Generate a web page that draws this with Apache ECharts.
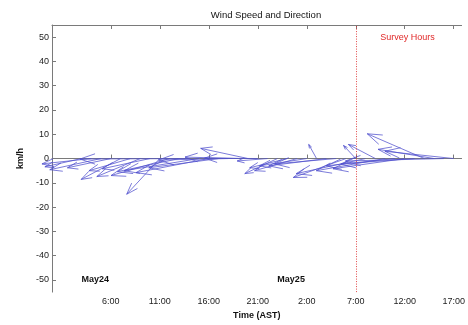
<!DOCTYPE html>
<html>
<head>
<meta charset="utf-8">
<script src="https://cdn.jsdelivr.net/npm/echarts@6/dist/echarts.min.js"></script>
<style>
  html, body { margin: 0; padding: 0; background: #fff; }
  #chart { width: 468px; height: 325px; }
</style>
</head>
<body>
<div id="chart"></div>
<script>
// hours since May24 00:00 (AST), wind components in km/h
const hours = [3, 4, 5, 6, 7, 8, 9, 10, 11, 12, 13, 14, 15, 16, 17, 18, 19, 20, 21,
  22, 23, 24, 25, 26, 27, 28, 29, 30, 31, 32, 33, 34, 35, 36, 37, 38, 39, 40, 41];
const uWind = [-14.9, -20.1, -20.9, -17.7, -16.1, -16.9, -17.7, -19.5, -13.5, -23.9, -25.3, -44.6, -30.5, -29.7, -28.5, -28.5, -21.7, -19.3, -21.7,
  -12.4, -13.3, -15.3, -17.3, -19.3, -3.2, -23.5, -25.1, -21.5, -5.0, -28.3, -11.0, -28.1, -28.1, -29.3, -30.1, -23.3, -22.9, -40.2, -28.1];
const vWind = [-3.4, -2.2, -4.6, -3.8, -8.6, -5.0, -7.4, -4.2, -14.7, -7.0, -5.4, -0.2, -5.0, -5.8, -3.8, -0.6, 0.6, 4.2, 0.2,
  -1.0, -6.2, -3.8, -5.0, -3.0, 5.8, -3.0, -2.2, -7.8, 5.4, -6.2, 5.8, -5.0, -3.0, -4.2, -2.2, 10.2, 3.8, -1.0, 3.0];

const xTicks = [6, 11, 16, 21, 26, 31, 36, 41];
const yTicks = [-50, -40, -30, -20, -10, 0, 10, 20, 30, 40, 50];

const dayNames = ['May24', 'May25'];
const dayHours = [3, 23];
const dayY = [-50, -50];

const surveyStart = 31;
const surveyLabel = 'Survey Hours';

// hours of time axis per km/h of u, so arrows keep their direction on screen
const SCALE = 0.25;

const arrowData = hours.map((h, i) => [h, uWind[i], vWind[i]]);

const chart = echarts.init(document.getElementById('chart'));

const FONT = 'Liberation Sans, Arial, sans-serif';
const AXIS_GRAY = '#7a7a7a';

chart.setOption({
  animation: false,
  title: {
    text: 'Wind Speed and Direction',
    left: 261,
    textAlign: 'center',
    top: 5,
    textStyle: { fontFamily: FONT, fontSize: 9.5, fontWeight: 'normal', color: '#111' },
  },
  grid: { left: 52, right: 0, top: 25, bottom: 26 },
  xAxis: [
    {
      type: 'value',
      min: 0,
      max: 41.8,
      name: 'Time (AST)',
      nameLocation: 'middle',
      nameGap: 18,
      nameTextStyle: { fontFamily: FONT, fontSize: 9, fontWeight: 'bold', color: '#111' },
      axisLine: { lineStyle: { color: AXIS_GRAY } },
      axisTick: { inside: true, length: 4, customValues: xTicks, lineStyle: { color: AXIS_GRAY } },
      axisLabel: {
        customValues: xTicks,
        margin: 5,
        fontFamily: FONT,
        fontSize: 9,
        color: '#222',
        formatter: (v) => (v % 24) + ':00',
      },
      splitLine: { show: false },
    },
    {
      type: 'value',
      position: 'top',
      min: 0,
      max: 41.8,
      axisLine: { lineStyle: { color: AXIS_GRAY } },
      axisTick: { inside: true, length: 4, customValues: xTicks, lineStyle: { color: AXIS_GRAY } },
      axisLabel: { show: false },
      splitLine: { show: false },
    },
  ],
  yAxis: {
    type: 'value',
    min: -55,
    max: 55,
    name: 'km/h',
    nameLocation: 'middle',
    nameRotate: 90,
    nameGap: 21,
    nameTextStyle: { fontFamily: FONT, fontSize: 9, fontWeight: 'bold', color: '#111' },
    axisLine: { show: true, lineStyle: { color: AXIS_GRAY } },
    axisTick: { show: true, inside: true, length: 4, customValues: yTicks, lineStyle: { color: AXIS_GRAY } },
    axisLabel: { customValues: yTicks, margin: 3, fontFamily: FONT, fontSize: 9, color: '#222' },
    splitLine: { show: false },
  },
  series: [
    {
      type: 'custom',
      name: 'wind',
      clip: false,
      data: arrowData,
      renderItem: (params, api) => {
        const t = api.value(0);
        const u = api.value(1);
        const v = api.value(2);
        const p0 = api.coord([t, 0]);
        const p1 = api.coord([t + u * SCALE, v]);
        const dx = p1[0] - p0[0];
        const dy = p1[1] - p0[1];
        const len = Math.sqrt(dx * dx + dy * dy);
        const ang = Math.atan2(dy, dx);
        const head = Math.max(3, Math.min(len * 0.25, 16));
        const spread = 0.33;
        const b1 = [p1[0] - head * Math.cos(ang - spread), p1[1] - head * Math.sin(ang - spread)];
        const b2 = [p1[0] - head * Math.cos(ang + spread), p1[1] - head * Math.sin(ang + spread)];
        const style = { stroke: 'rgba(80,80,205,0.75)', lineWidth: 1, fill: null };
        return {
          type: 'group',
          children: [
            { type: 'line', shape: { x1: p0[0], y1: p0[1], x2: p1[0], y2: p1[1] }, style },
            { type: 'polyline', shape: { points: [b1, p1, b2] }, style },
          ],
        };
      },
      markLine: {
        silent: true,
        symbol: 'none',
        label: { show: false },
        lineStyle: { color: 'rgba(220,40,40,0.85)', type: [1, 1.5], width: 1 },
        data: [{ xAxis: surveyStart }],
      },
    },
    {
      type: 'custom',
      name: 'days',
      clip: false,
      data: dayNames.map((n, i) => [dayHours[i], dayY[i], n]),
      renderItem: (params, api) => {
        const p = api.coord([api.value(0), api.value(1)]);
        return {
          type: 'text',
          x: p[0],
          y: p[1],
          style: {
            text: dayNames[params.dataIndex],
            fontFamily: FONT,
            fontSize: 9,
            fontWeight: 'bold',
            fill: '#111',
            align: 'left',
            verticalAlign: 'middle',
          },
        };
      },
    },
    {
      type: 'custom',
      name: 'survey',
      clip: false,
      data: [[surveyStart + 2.5, 50]],
      renderItem: (params, api) => {
        const p = api.coord([api.value(0), api.value(1)]);
        return {
          type: 'text',
          x: p[0],
          y: p[1],
          style: {
            text: surveyLabel,
            fontFamily: FONT,
            fontSize: 9,
            fill: '#e02828',
            align: 'left',
            verticalAlign: 'middle',
          },
        };
      },
    },
  ],
});
</script>
</body>
</html>
